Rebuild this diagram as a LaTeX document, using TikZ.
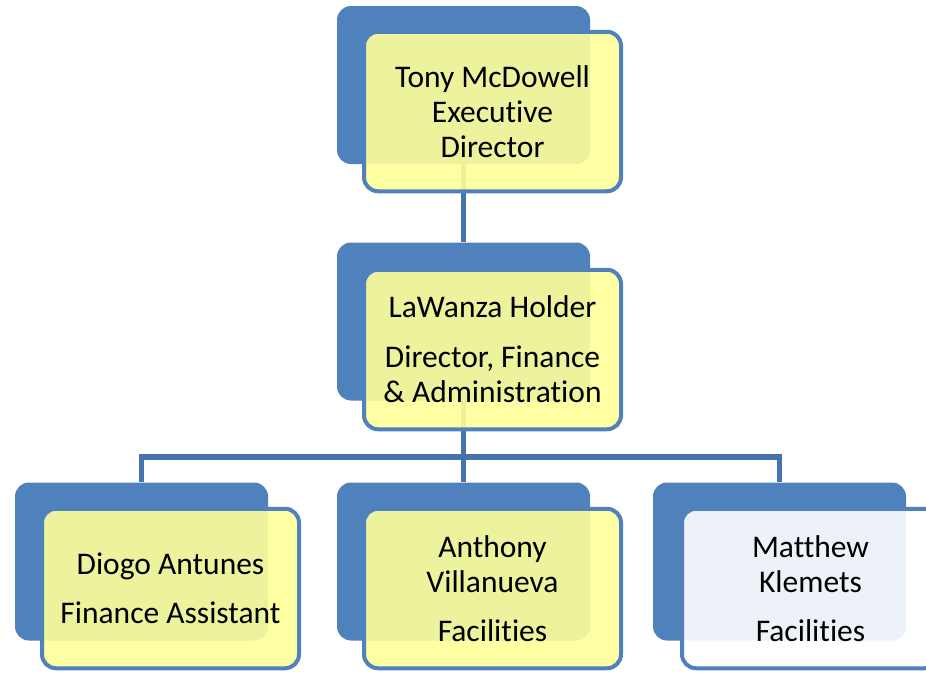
\documentclass[tikz,border=0pt]{standalone}
\usepackage{fontspec}
\setmainfont{Carlito}[Ligatures=NoCommon]

\definecolor{orgblue}{RGB}{79,129,189}
\definecolor{orgline}{RGB}{70,115,172}
\definecolor{orgyellow}{RGB}{255,255,153}

\begin{document}
\begin{tikzpicture}[
    x=1pt, y=-1pt,
    backbox/.style={rectangle,rounded corners=14pt,fill=orgblue,minimum width=253pt,minimum height=158pt,inner sep=0pt},
    card/.style={rectangle,rounded corners=14pt,draw=orgblue,line width=4pt,fill=orgyellow,fill opacity=0.9,text opacity=1,
                 minimum width=257pt,minimum height=159.5pt,inner sep=0pt,align=center,font=\fontsize{31.5}{35}\selectfont},
    link/.style={draw=orgline,line width=5.5pt}
]
\clip (0,0) rectangle (926,673);

\node[backbox] (ceo-bk) at (463.5,85) {};
\node[backbox] (dir-bk) at (463.5,321.5) {};
\node[backbox] (fa-bk) at (141.5,561.5) {};
\node[backbox] (fac1-bk) at (463.5,561.5) {};
\node[backbox] (fac2-bk) at (779.5,561.5) {};

\coordinate (bus) at (463.5,457);
\draw[link] (ceo-bk.south) -- (dir-bk.north);
\draw[link] (dir-bk.south) -- (bus);
\draw[link] (fa-bk.north) |- (bus) -| (fac2-bk.north);
\draw[link] (bus) -- (fac1-bk.north);

\node[card] (ceo) at (492.5,111.5) {Tony McDowell\\Executive\\Director};
\node[card] (dir) at (492.5,349.5) {LaWanza Holder\\[15pt]Director, Finance\\\& Administration};
\node[card] (fa) at (170.5,588.5) {Diogo Antunes\\[14pt]Finance Assistant};
\node[card] (fac1) at (492.5,588.5) {Anthony\\Villanueva\\[14pt]Facilities};
\node[card,fill=white] (fac2) at (810.5,588.5) {Matthew\\Klemets\\[14pt]Facilities};
\end{tikzpicture}
\end{document}
